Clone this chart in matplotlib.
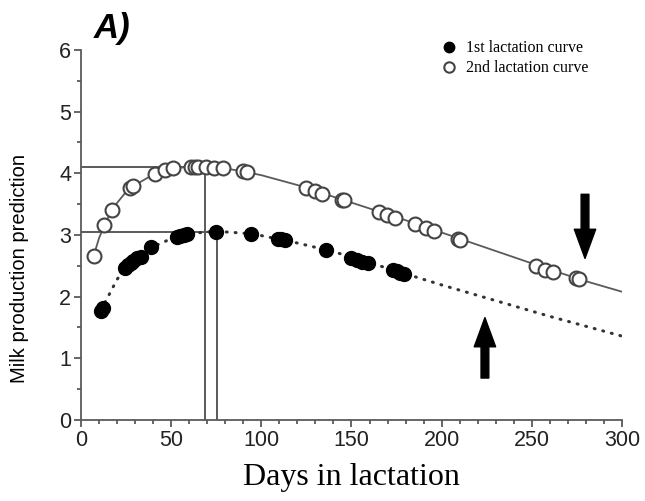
import numpy as np
import matplotlib.pyplot as plt
from matplotlib.ticker import MultipleLocator

# fitted lactation curves
curve2_days = [7, 10, 13, 17, 20, 25, 30, 40, 50, 60, 70, 80, 90, 100, 120, 140,
               160, 180, 200, 220, 240, 260, 280, 300]
curve2_milk = [2.66, 2.95, 3.16, 3.40, 3.52, 3.70, 3.81, 3.98, 4.07, 4.11, 4.11, 4.08,
               4.03, 3.97, 3.81, 3.62, 3.43, 3.24, 3.04, 2.84, 2.64, 2.44, 2.25, 2.08]

curve1_days = [11, 15, 20, 25, 30, 40, 50, 60, 70, 80, 90, 100, 120, 140, 160,
               180, 200, 220, 240, 260, 280, 300]
curve1_milk = [1.78, 2.00, 2.28, 2.47, 2.60, 2.81, 2.94, 3.02, 3.05, 3.05, 3.03, 2.99,
               2.87, 2.73, 2.55, 2.37, 2.19, 2.02, 1.85, 1.68, 1.52, 1.36]

# observed points
obs2_days = [7, 13, 17, 27, 29, 41, 46.5, 51, 61, 63, 65, 69.5, 74, 79, 90, 92,
             125, 130, 133.5, 145, 146, 165, 169.5, 174, 185, 191.5, 196, 209, 210,
             252.5, 257.5, 262, 274.5, 276]
obs2_milk = [2.66, 3.16, 3.40, 3.76, 3.79, 3.99, 4.05, 4.08, 4.11, 4.11, 4.11, 4.10,
             4.09, 4.08, 4.03, 4.02, 3.76, 3.71, 3.67, 3.57, 3.56, 3.38, 3.33, 3.28,
             3.18, 3.11, 3.07, 2.93, 2.92, 2.49, 2.44, 2.40, 2.30, 2.29]

obs1_days = [11, 12, 24.5, 26, 27.5, 29, 31, 33, 39, 53, 55, 57, 59, 75, 94.5,
             109, 111, 113, 136, 150, 153, 156, 159, 173, 175, 177, 179]
obs1_milk = [1.76, 1.82, 2.47, 2.51, 2.55, 2.58, 2.62, 2.65, 2.81, 2.96, 2.98, 3.00,
             3.02, 3.05, 3.02, 2.94, 2.93, 2.92, 2.76, 2.62, 2.60, 2.57, 2.54, 2.43,
             2.41, 2.39, 2.37]

# peak reference lines
peak2_day, peak2_milk = 69, 4.10
peak1_day, peak1_milk = 75.5, 3.05

grey = '#5a5a5a'

fig = plt.figure(figsize=(6.45, 5.01), dpi=100)
ax = fig.add_axes([0.1256, 0.1617, 0.8387, 0.7385])

# reference lines
ax.plot([0, peak2_day, peak2_day], [peak2_milk, peak2_milk, 0], color=grey, lw=1.4, zorder=1)
ax.plot([0, peak1_day, peak1_day], [peak1_milk, peak1_milk, 0], color=grey, lw=1.4, zorder=1)

# curves
ax.plot(curve2_days, curve2_milk, color=grey, lw=1.3, zorder=2)
ax.plot(curve1_days, curve1_milk, color='#333333', lw=2.2, linestyle=(0, (0.3, 2.6)),
        dash_capstyle='round', zorder=2)

ax.plot(obs1_days, obs1_milk, 'o', ms=10, mfc='black', mec='black', zorder=3,
        label='1st lactation curve')
ax.plot(obs2_days, obs2_milk, 'o', ms=10, mfc='white', mec='#444444', mew=1.5, zorder=3,
        label='2nd lactation curve')

# arrows
arrow_style = 'simple,head_length=1.5,head_width=1.1,tail_width=0.4'
ax.annotate('', xy=(279.5, 2.62), xytext=(279.5, 3.66),
            arrowprops=dict(arrowstyle=arrow_style, color='black', mutation_scale=14,
                            shrinkA=0, shrinkB=0))
ax.annotate('', xy=(224, 1.66), xytext=(224, 0.68),
            arrowprops=dict(arrowstyle=arrow_style, color='black', mutation_scale=14,
                            shrinkA=0, shrinkB=0))

ax.set_xlim(0, 300)
ax.set_ylim(0, 6)
ax.xaxis.set_major_locator(MultipleLocator(50))
ax.xaxis.set_minor_locator(MultipleLocator(10))
ax.yaxis.set_major_locator(MultipleLocator(1))
ax.yaxis.set_minor_locator(MultipleLocator(0.5))
for s in ['top', 'right']:
    ax.spines[s].set_visible(False)
for s in ['left', 'bottom']:
    ax.spines[s].set_color(grey)
    ax.spines[s].set_linewidth(1.3)
ax.tick_params(which='major', length=5, width=1.3, color=grey, labelsize=15.5, pad=2)
ax.tick_params(which='minor', length=3, width=1.3, color=grey)
for lab in ax.get_xticklabels() + ax.get_yticklabels():
    lab.set_family('Liberation Sans')
    lab.set_color('#222222')

ax.set_xlabel('Days in lactation', family='Liberation Serif', fontsize=23, labelpad=9)
ax.set_ylabel('Milk production prediction', family='Liberation Sans', fontsize=14.5)
ax.yaxis.set_label_coords(-0.096, 0.41)

fig.text(0.146, 0.925, 'A)', family='Liberation Sans', fontsize=25, fontweight='bold',
         fontstyle='italic')

ax.legend(loc='upper left', bbox_to_anchor=(0.638, 1.065), frameon=False,
          prop={'family': 'Liberation Serif', 'size': 11.5}, handlelength=1.0,
          handletextpad=0.6, labelspacing=0.25, markerscale=0.75)

fig.savefig('out.png', dpi=100)
